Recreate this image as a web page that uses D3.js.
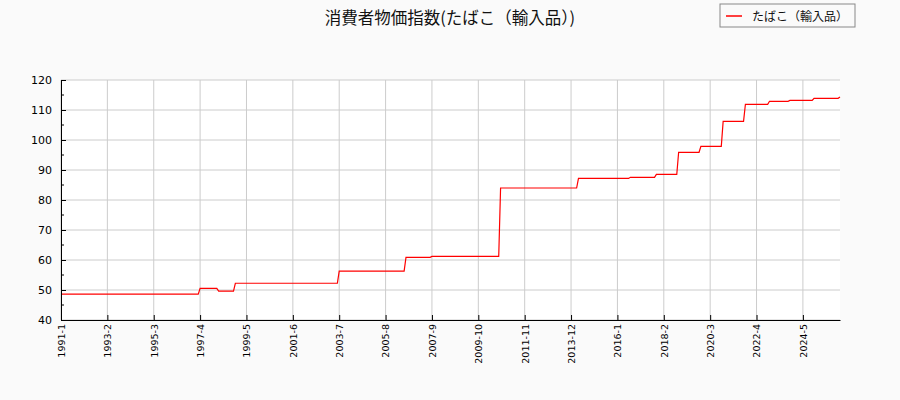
<!DOCTYPE html>
<html>
<head>
<meta charset="utf-8">
<script src="https://cdn.jsdelivr.net/npm/d3@7"></script>
<style>
  body { margin: 0; background: #fafafa; }
  svg { display: block; }
</style>
</head>
<body>
<svg id="chart"></svg>
<script>
// months where the index changes (start and end of every flat run)
const months = [
  "1991-1", "1997-3", "1997-4", "1998-1", "1998-2", "1998-10", "1998-11", "2003-6",
  "2003-7", "2006-6", "2006-7", "2007-8", "2007-9", "2010-9", "2010-10", "2014-3",
  "2014-4", "2016-7", "2016-8", "2017-9", "2017-10", "2018-9", "2018-10", "2019-9",
  "2019-10", "2020-9", "2020-10", "2021-9", "2021-10", "2022-10", "2022-11", "2023-9",
  "2023-10", "2024-10", "2024-11", "2025-12", "2026-1"
];
const values = [
  48.6, 48.6, 50.55, 50.55, 49.6, 49.6, 52.25, 52.25,
  56.3, 56.3, 60.9, 60.9, 61.2, 61.2, 84.0, 84.0,
  87.2, 87.2, 87.55, 87.55, 88.55, 88.55, 95.9, 95.9,
  97.9, 97.9, 106.2, 106.2, 111.9, 111.9, 112.9, 112.9,
  113.2, 113.2, 113.9, 113.9, 114.3
];
const tickLabels = [
  "1991-1", "1993-2", "1995-3", "1997-4", "1999-5", "2001-6", "2003-7", "2005-8", "2007-9",
  "2009-10", "2011-11", "2013-12", "2016-1", "2018-2", "2020-3", "2022-4", "2024-5"
];
const yTicks = [40, 50, 60, 70, 80, 90, 100, 110, 120];
const seriesName = "たばこ（輸入品）";
const title = "消費者物価指数(たばこ（輸入品）)";

const w = 900, h = 400;
const padLeft = 61, padRight = 840, padTop = 80, padBottom = 320;

// month label -> months since 1991-1
const monthIndex = s => {
  const [y, m] = s.split("-").map(Number);
  return (y - 1991) * 12 + (m - 1);
};

const data = months.map((m, i) => ({ x: monthIndex(m), y: values[i] }));

const svg = d3.select("#chart")
  .attr("width", w)
  .attr("height", h)
  .style("font-family", "'DejaVu Sans', sans-serif");

svg.append("rect").attr("width", w).attr("height", h).attr("fill", "#fafafa");
svg.append("rect")
  .attr("x", padLeft).attr("y", padTop)
  .attr("width", padRight - padLeft).attr("height", padBottom - padTop)
  .attr("fill", "#ffffff");

const xScale = d3.scaleLinear().domain([0, monthIndex("2026-1")]).range([padLeft, padRight]);
const yScale = d3.scaleLinear().domain([40, 120]).range([padBottom, padTop]);

// grid
svg.append("g")
  .selectAll("line")
  .data(tickLabels)
  .enter()
  .append("line")
  .attr("x1", d => xScale(monthIndex(d)))
  .attr("x2", d => xScale(monthIndex(d)))
  .attr("y1", padTop).attr("y2", padBottom)
  .attr("stroke", "#cccccc").attr("stroke-width", 1);

svg.append("g")
  .selectAll("line")
  .data(yTicks)
  .enter()
  .append("line")
  .attr("x1", padLeft).attr("x2", padRight)
  .attr("y1", d => yScale(d)).attr("y2", d => yScale(d))
  .attr("stroke", "#cccccc").attr("stroke-width", 1);

// series line
const line = d3.line().x(d => xScale(d.x)).y(d => yScale(d.y));
svg.append("path")
  .datum(data)
  .attr("d", line)
  .attr("fill", "none")
  .attr("stroke", "#ff0000")
  .attr("stroke-width", 1.2);

// y axis, ticks pointing into the plot
const axisY = d3.axisLeft(yScale).tickValues(yTicks).tickSizeInner(-5).tickSizeOuter(0).tickPadding(9);
const gy = svg.append("g")
  .attr("transform", `translate(${padLeft},0)`)
  .call(axisY);
gy.selectAll("text")
  .style("font-family", "'DejaVu Sans', sans-serif")
  .style("font-size", "11px")
  .attr("fill", "#000");

const minorY = d3.range(45, 120, 10);
svg.append("g")
  .selectAll("line")
  .data(minorY)
  .enter()
  .append("line")
  .attr("x1", padLeft).attr("x2", padLeft + 3)
  .attr("y1", d => yScale(d)).attr("y2", d => yScale(d))
  .attr("stroke", "#000");

// x axis
const axisX = d3.axisBottom(xScale)
  .tickValues(tickLabels.map(monthIndex))
  .tickFormat((d, i) => tickLabels[i])
  .tickSizeInner(-5).tickSizeOuter(0).tickPadding(4);
const gx = svg.append("g")
  .attr("transform", `translate(0,${padBottom})`)
  .call(axisX);
gx.selectAll("text")
  .style("font-family", "'DejaVu Sans', sans-serif")
  .style("font-size", "9.5px")
  .attr("fill", "#000")
  .attr("text-anchor", "end")
  .attr("dy", "0.35em")
  .attr("transform", "rotate(-90)")
  .attr("x", -4)
  .attr("y", 0);

svg.selectAll(".domain").attr("stroke", "#000");

// title
svg.append("text")
  .attr("x", 450).attr("y", 24)
  .attr("text-anchor", "middle")
  .style("font-family", "'Noto Sans CJK JP', sans-serif")
  .style("font-size", "16.5px")
  .attr("fill", "#111")
  .text(title);

// legend
const lg = svg.append("g").attr("transform", "translate(720,4)");
lg.append("rect")
  .attr("width", 135).attr("height", 23)
  .attr("fill", "#fafafa").attr("stroke", "#888").attr("stroke-width", 1);
lg.append("line")
  .attr("x1", 6).attr("x2", 22).attr("y1", 12).attr("y2", 12)
  .attr("stroke", "#ff0000").attr("stroke-width", 1.5);
lg.append("text")
  .attr("x", 32).attr("y", 16.5)
  .style("font-family", "'Noto Sans CJK JP', sans-serif")
  .style("font-size", "12px")
  .attr("fill", "#111")
  .text(seriesName);
</script>
</body>
</html>
